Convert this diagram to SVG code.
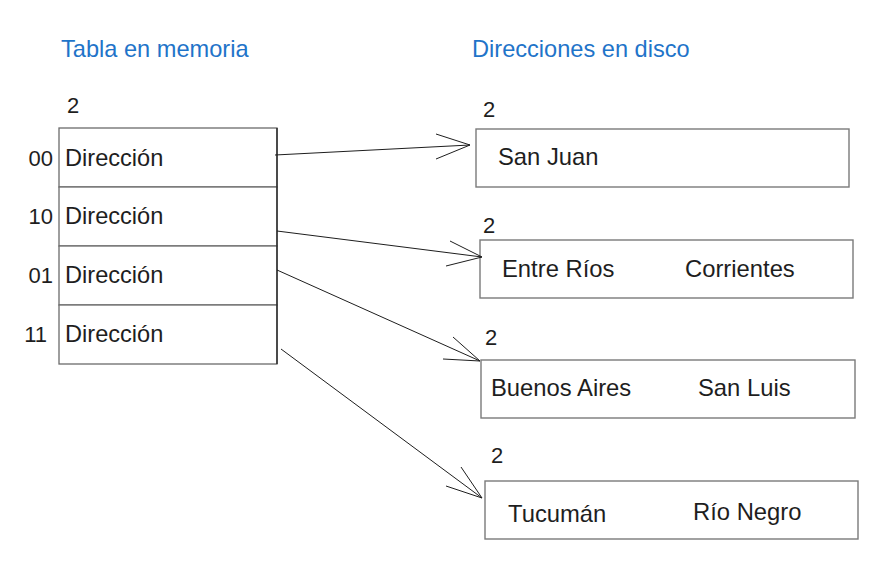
<svg xmlns="http://www.w3.org/2000/svg" width="881" height="564" viewBox="0 0 881 564">
<style>
text{font-family:"Liberation Sans",Arial,sans-serif;fill:#1e1e1e;font-size:22px}
.title{fill:#1f74c9;font-size:23.6px}
.big{font-size:23.8px}
.cell{fill:#fff;stroke:#6b6b6b;stroke-width:1.3}
.box{fill:#fff;stroke:#7a7a7a;stroke-width:1.4}
.conn line,.conn polyline{stroke:#1e1e1e;stroke-width:1;fill:none}
.end{text-anchor:end}
</style>
<rect width="881" height="564" fill="#fff"/>
<text class="title" x="61" y="57">Tabla en memoria</text>
<text class="title" x="472" y="57">Direcciones en disco</text>
<g id="tabla">
<text x="67" y="113">2</text>
<rect class="cell" x="59" y="128" width="218" height="59"/>
<rect class="cell" x="59" y="187" width="218" height="59"/>
<rect class="cell" x="59" y="246" width="218" height="59"/>
<rect class="cell" x="59" y="305" width="218" height="59"/>
<line x1="277" y1="128" x2="277" y2="364" stroke="#1e1e1e" stroke-width="1.3"/>
<text class="end" x="53" y="166">00</text>
<text class="end" x="53" y="224">10</text>
<text class="end" x="53" y="283">01</text>
<text class="end" x="47" y="342">11</text>
<text x="65" y="166" style="font-size:23.6px">Dirección</text>
<text x="65" y="224" style="font-size:23.6px">Dirección</text>
<text x="65" y="283" style="font-size:23.6px">Dirección</text>
<text x="65" y="342" style="font-size:23.6px">Dirección</text>
</g>
<g id="b1">
<text x="483" y="117">2</text>
<rect class="box" x="476" y="129" width="373" height="58"/>
<text class="big" x="498" y="165">San Juan</text>
</g>
<g id="b2">
<text x="483" y="233">2</text>
<rect class="box" x="480" y="240" width="373" height="58"/>
<text class="big" x="502" y="277">Entre Ríos</text>
<text class="big" x="685" y="277">Corrientes</text>
</g>
<g id="b3">
<text x="485" y="345">2</text>
<rect class="box" x="481" y="360" width="374" height="58"/>
<text class="big" x="491" y="396">Buenos Aires</text>
<text class="big" x="698" y="396">San Luis</text>
</g>
<g id="b4">
<text x="491" y="463">2</text>
<rect class="box" x="485" y="481" width="373" height="58"/>
<text class="big" x="508" y="522">Tucumán</text>
<text class="big" x="693" y="520">Río Negro</text>
</g>
<g class="conn" id="connectors">
<line x1="275" y1="155" x2="470" y2="145"/>
<polyline points="436,134 470,145 436,159"/>
<line x1="277" y1="231" x2="482" y2="257"/>
<polyline points="450,241 482,257 446,266"/>
<line x1="277" y1="270" x2="480" y2="361"/>
<polyline points="453,337 480,361 443,359"/>
<line x1="281" y1="349" x2="482" y2="498"/>
<polyline points="461,467 482,498 446,486"/>
</g>
</svg>
